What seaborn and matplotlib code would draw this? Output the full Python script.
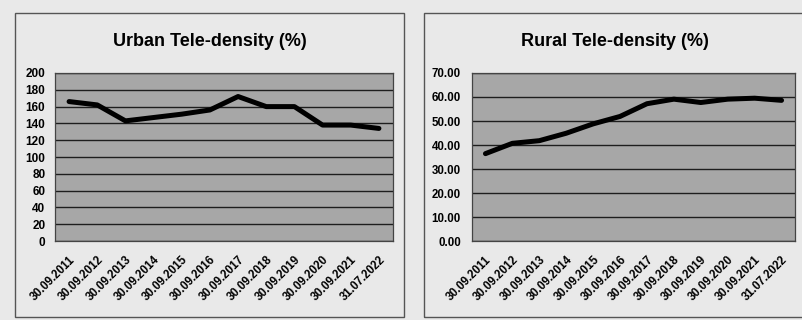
import pandas as pd
import matplotlib
matplotlib.use('Agg')
import matplotlib.pyplot as plt
import seaborn as sns
from matplotlib.patches import Rectangle
from matplotlib.ticker import FormatStrFormatter

dates = ['30.09.2011', '30.09.2012', '30.09.2013', '30.09.2014', '30.09.2015', '30.09.2016',
         '30.09.2017', '30.09.2018', '30.09.2019', '30.09.2020', '30.09.2021', '31.07.2022']
urban = [166, 162, 143, 147, 151, 156, 172, 160, 160, 138, 138, 134]
rural = [36.4, 40.7, 41.8, 44.9, 48.8, 51.9, 57.2, 59.1, 57.7, 59.1, 59.5, 58.6]

df = pd.DataFrame({'date': dates, 'urban': urban, 'rural': rural})

sns.set_style('white')
plt.rcParams['font.family'] = ['Liberation Sans', 'DejaVu Sans']
plt.rcParams['text.color'] = 'black'
plt.rcParams['xtick.color'] = 'black'
plt.rcParams['ytick.color'] = 'black'

fig = plt.figure(figsize=(8.02, 3.2), dpi=100)
fig.patch.set_facecolor('#e9e9e9')

# рамки вокруг двух диаграмм
fig.add_artist(Rectangle((15/802, 3/320), 389/802, 304/320, transform=fig.transFigure,
                         fill=False, ec='#555555', lw=1))
fig.add_artist(Rectangle((424/802, 3/320), 390/802, 304/320, transform=fig.transFigure,
                         fill=False, ec='#555555', lw=1))

ax1 = fig.add_axes([55/802, 79/320, 338/802, 168/320])
ax2 = fig.add_axes([472/802, 79/320, 323/802, 168/320])

panels = [
    (ax1, 'urban', 'Urban Tele-density (%)', 200, 20, '%d', 210, 8.5, 7),
    (ax2, 'rural', 'Rural Tele-density (%)', 70, 10, '%.2f', 615, 8.3, 8),
]

for ax, col, title, top, step, fmt, tx, yfs, ypad in panels:
    ax.set_facecolor('#a7a7a7')
    sns.lineplot(x='date', y=col, data=df, ax=ax, color='black', lw=3.6, sort=False)
    ax.set_xlim(-0.5, len(dates) - 0.5)
    ax.set_ylim(0, top)
    ax.set_yticks(range(0, top + 1, step))
    ax.yaxis.set_major_formatter(FormatStrFormatter(fmt))
    ax.grid(axis='y', color='#1e1e1e', lw=1.0)
    ax.set_axisbelow(True)
    ax.set_xlabel('')
    ax.set_ylabel('')
    for s in ax.spines.values():
        s.set_color('#444444')
        s.set_linewidth(0.9)
    ax.tick_params(axis='y', length=0, pad=ypad)
    ax.tick_params(axis='x', length=0, pad=9)
    for lab in ax.get_yticklabels():
        lab.set_fontsize(yfs)
        lab.set_fontweight('bold')
    ax.set_xticks(range(len(dates)))
    ax.set_xticklabels(dates, rotation=45, ha='right', rotation_mode='anchor',
                       fontsize=8.3, fontweight='bold')
    fig.text(tx / 802, 1 - 42 / 320, title, ha='center', va='center',
             fontsize=13, fontweight='bold')

fig.savefig('out.png', dpi=100, facecolor=fig.get_facecolor())
